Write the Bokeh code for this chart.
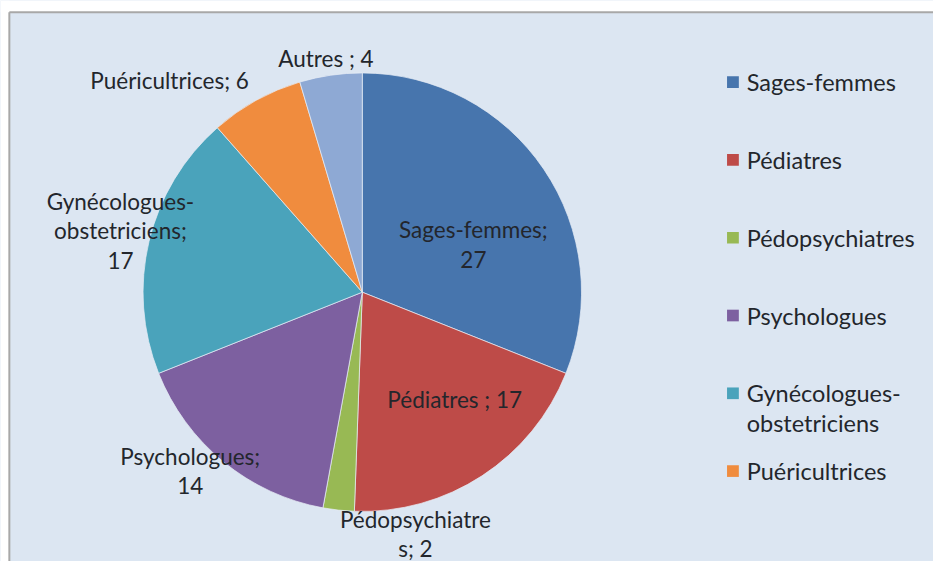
import numpy as np
from bokeh.plotting import figure
from bokeh.models import Range1d, ColumnDataSource
from bokeh.core.properties import value
from bokeh.embed import file_html
from bokeh.resources import INLINE

# ---- data ----
categories = ["Sages-femmes", "Pédiatres", "Pédopsychiatres", "Psychologues",
              "Gynécologues-obstetriciens", "Puéricultrices", "Autres"]
counts = [27, 17, 2, 14, 17, 6, 4]
data_labels = ["Sages-femmes;\n27", "Pédiatres ; 17", "Pédopsychiatre\ns; 2",
               "Psychologues;\n14", "Gynécologues-\nobstetriciens;\n17",
               "Puéricultrices; 6", "Autres ; 4"]
legend_labels = ["Sages-femmes", "Pédiatres", "Pédopsychiatres", "Psychologues",
                 "Gynécologues-\nobstetriciens", "Puéricultrices"]

# ---- styles / layout (reference pixel space, y downward) ----
colors = ["#4775AD", "#BE4B48", "#98B954", "#7D60A0", "#4AA3BB", "#F08C3E", "#8EA9D4"]
bg = "#DCE6F2"
txt_color = "#23262c"
font = "Lato"
cx, cy, R = 368, -300, 223
label_pos = [(481, 251), (462, 410), (422, 549), (193, 484), (122, 237), (172, 82), (331, 60)]
leg_x, leg_y0, leg_step, line_h = 745, 84, 80, 30
box_left, box_top = 9, 12

W, H = 933, 561
REF_W, REF_H = 949, 577
p = figure(width=W, height=H, output_backend="svg", toolbar_location=None,
           x_range=Range1d(0, REF_W), y_range=Range1d(-REF_H, 0),
           min_border_left=0, min_border_top=0, min_border_right=0, min_border_bottom=0)
p.axis.visible = False
p.grid.visible = False
p.background_fill_color = bg
p.border_fill_color = "white"
p.outline_line_color = None

# white margin above/left of the chart box, then its border lines
p.quad(left=0, right=REF_W, top=0, bottom=-box_top, fill_color="white", line_color=None)
p.quad(left=0, right=box_left, top=0, bottom=-REF_H, fill_color="white", line_color=None)
p.segment(x0=[box_left, box_left], y0=[-box_top, -box_top], x1=[box_left, REF_W], y1=[-REF_H, -box_top],
          line_color="#a8a8a8", line_width=2)

total = sum(counts)
cum = np.concatenate([[0], np.cumsum(counts)])
start = np.pi / 2 - 2 * np.pi * cum[:-1] / total
end = np.pi / 2 - 2 * np.pi * cum[1:] / total
src = ColumnDataSource(dict(start=start, end=end, color=colors, cat=categories))
p.wedge(x=cx, y=cy, radius=R, start_angle="end", end_angle="start",
        fill_color="color", line_color="#e8eef6", line_width=1, line_alpha=0.7, source=src)

# data labels
lsrc = ColumnDataSource(dict(x=[q[0] for q in label_pos], y=[-q[1] for q in label_pos], t=data_labels))
p.text(x="x", y="y", text="t", source=lsrc, text_font=value(font), text_font_size="22.5px",
       text_color=txt_color, text_align="center", text_baseline="middle", text_line_height=1.08)

# legend (manual)
n_lines = [s.count("\n") + 1 for s in legend_labels]
ly = [leg_y0 + leg_step * i for i in range(len(legend_labels))]
p.rect(x=leg_x, y=[-v for v in ly], width=12, height=12, fill_color=colors[:len(legend_labels)], line_color=None)
tsrc = ColumnDataSource(dict(x=[leg_x + 14] * len(legend_labels),
                             y=[-(v + (n - 1) * line_h / 2) for v, n in zip(ly, n_lines)],
                             t=legend_labels))
p.text(x="x", y="y", text="t", source=tsrc, text_font=value(font), text_font_size="23.5px",
       text_color=txt_color, text_align="left", text_baseline="middle", text_line_height=1.08)

open("out.html", "w").write(file_html(p, INLINE))
